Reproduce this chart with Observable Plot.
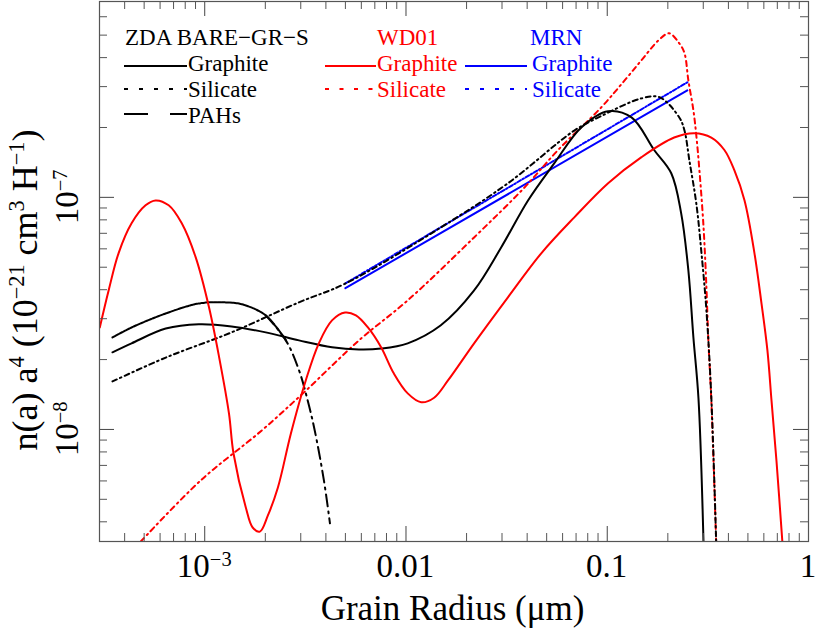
<!DOCTYPE html>
<html><head><meta charset="utf-8">
<script src="https://cdn.jsdelivr.net/npm/d3@7"></script>
<script src="https://cdn.jsdelivr.net/npm/@observablehq/plot@0.6"></script>
<style>
body{margin:0;background:#fff}
#chart{position:relative;width:830px;height:636px}
</style>
</head><body><div id="chart"></div>
<script>
// ---------- data (grain radius a in µm, n(a) a^4 as plotted) ----------
const zdaGraphiteA = [3.48e-4, 4.33e-4, 6.40e-4, 9.34e-4, 1.36e-3, 2.01e-3, 2.94e-3, 4.29e-3, 5.84e-3, 7.52e-3, 0.0102, 0.0149, 0.0218, 0.0297, 0.0404, 0.0545, 0.0743, 0.101, 0.132, 0.171, 0.208, 0.233, 0.253, 0.268, 0.284, 0.301];
const zdaGraphiteV = [2.15e-8, 2.35e-8, 2.72e-8, 2.84e-8, 2.78e-8, 2.62e-8, 2.42e-8, 2.26e-8, 2.21e-8, 2.23e-8, 2.35e-8, 2.81e-8, 3.97e-8, 6.08e-8, 9.70e-8, 1.40e-7, 2.00e-7, 2.35e-7, 2.21e-7, 1.60e-7, 1.27e-7, 8.53e-8, 4.84e-8, 2.49e-8, 1.36e-8, 3.2e-9];

const zdaSilicateA = [3.48e-4, 6.40e-4, 1.36e-3, 2.94e-3, 5.02e-3, 0.0149, 0.0321, 0.0686, 0.0933, 0.148, 0.182, 0.228, 0.242, 0.256, 0.277, 0.294, 0.311, 0.329, 0.348];
const zdaSilicateV = [1.61e-8, 2.04e-8, 2.62e-8, 3.53e-8, 4.26e-8, 7.42e-8, 1.15e-7, 1.94e-7, 2.24e-7, 2.67e-7, 2.70e-7, 2.21e-7, 1.94e-7, 1.44e-7, 9.42e-8, 5.74e-8, 3.26e-8, 1.37e-8, 3.2e-9];

const zdaPahA = [3.48e-4, 4.33e-4, 6.40e-4, 9.34e-4, 1.22e-3, 1.53e-3, 2.01e-3, 2.53e-3, 2.94e-3, 3.25e-3, 3.52e-3, 3.91e-3, 4.19e-3];
const zdaPahV = [2.49e-8, 2.75e-8, 3.16e-8, 3.49e-8, 3.53e-8, 3.46e-8, 3.10e-8, 2.42e-8, 1.80e-8, 1.33e-8, 9.9e-9, 6.03e-9, 3.94e-9];

const wdGraphiteA = [3.01e-4, 3.33e-4, 3.73e-4, 4.33e-4, 5.08e-4, 5.70e-4, 6.62e-4, 7.69e-4, 9.02e-4, 1.05e-3, 1.18e-3, 1.32e-3, 1.39e-3, 1.60e-3, 1.73e-3, 1.88e-3, 2.06e-3, 2.31e-3, 2.68e-3, 3.18e-3, 3.69e-3, 4.29e-3, 4.98e-3, 5.64e-3, 6.47e-3, 7.52e-3, 8.71e-3, 0.0102, 0.0119, 0.0138, 0.0162, 0.0218, 0.0321, 0.0470, 0.0686, 0.101, 0.148, 0.215, 0.271, 0.329, 0.382, 0.428, 0.481, 0.539, 0.584, 0.625, 0.655, 0.693, 0.743];
const wdGraphiteV = [2.75e-8, 3.97e-8, 5.74e-8, 7.73e-8, 9.24e-8, 9.70e-8, 9.24e-8, 7.73e-8, 5.51e-8, 3.36e-8, 2.04e-8, 1.17e-8, 7.88e-9, 4.61e-9, 3.78e-9, 3.63e-9, 4.26e-9, 5.62e-9, 9.61e-9, 1.63e-8, 2.35e-8, 2.95e-8, 3.19e-8, 3.10e-8, 2.75e-8, 2.26e-8, 1.74e-8, 1.43e-8, 1.31e-8, 1.37e-8, 1.63e-8, 2.35e-8, 3.71e-8, 5.74e-8, 8.20e-8, 1.15e-7, 1.49e-7, 1.81e-7, 1.89e-7, 1.81e-7, 1.60e-7, 1.31e-7, 9.70e-8, 5.74e-8, 3.49e-8, 2.19e-8, 1.33e-8, 7.35e-9, 3.2e-9];

const wdSilicateA = [4.81e-4, 9.55e-4, 1.92e-3, 3.18e-3, 5.84e-3, 0.0102, 0.0218, 0.0387, 0.0570, 0.0933, 0.122, 0.148, 0.180, 0.203, 0.228, 0.242, 0.253, 0.268, 0.277, 0.287, 0.301, 0.311, 0.318, 0.329, 0.348];
const wdSilicateV = [3.29e-9, 6.03e-9, 9.9e-9, 1.47e-8, 2.42e-8, 3.60e-8, 6.72e-8, 1.10e-7, 1.60e-7, 2.44e-7, 3.19e-7, 3.90e-7, 4.75e-7, 5.09e-7, 4.61e-7, 4.18e-7, 3.19e-7, 2.37e-7, 1.85e-7, 1.31e-7, 7.42e-8, 4.09e-8, 2.42e-8, 1.33e-8, 3.2e-9];

const mrnA = [0.005, 0.25];
const mrnGraphiteV = [4.06e-8, 2.89e-7];
const mrnSilicateV = [4.26e-8, 3.13e-7];

const xDomain = [3.0e-4, 1];
const yDomain = [3.29e-9, 6.98e-7];
const xMajor = [1e-3, 1e-2, 1e-1, 1];
const xTickLabels = [["10", "\u22123"], ["0.01"], ["0.1"], ["1"]];
const yMajor = [1e-8, 1e-7];
const yTickLabels = [["10", "\u22128"], ["10", "\u22127"]];

const legendHeaders = ["ZDA BARE\u2212GR\u2212S", "WD01", "MRN"];
const legendRows = [["Graphite", "Silicate", "PAHs"], ["Graphite", "Silicate"], ["Graphite", "Silicate"]];

// ---------- layout ----------
const W = 830, H = 636, mL = 99, mR = 22, mT = 1, mB = 95;
const fw = W - mL - mR, fh = H - mT - mB;
const RED = "#ff0000", BLUE = "#0000ff", BLACK = "#000000";
const FONT = "'Liberation Serif','Times New Roman',serif";

const rows = (A, V) => A.map((a, i) => ({a, v: V[i]}));
const minors = (lo, hi, e0, e1) => {
  const out = [];
  for (let e = e0; e <= e1; e++) for (let k = 2; k <= 9; k++) {
    const t = k * Math.pow(10, e);
    if (t > lo * 1.01 && t < hi * 0.99) out.push(t);
  }
  return out;
};
const xMinor = minors(xDomain[0], xDomain[1], -4, -1);
const yMinor = minors(yDomain[0], yDomain[1], -9, -7);

const common = {x: "a", y: "v", curve: "catmull-rom", clip: true};
const pah = rows(zdaPahA, zdaPahV);

const plot = Plot.plot({
  width: W, height: H,
  marginLeft: mL, marginRight: mR, marginTop: mT, marginBottom: mB,
  x: {type: "log", domain: xDomain, axis: null},
  y: {type: "log", domain: yDomain, axis: null},
  style: {fontFamily: FONT, background: "#fff", overflow: "visible"},
  marks: [
    Plot.line(rows(mrnA, mrnGraphiteV), {...common, stroke: BLUE, strokeWidth: 2, curve: "linear"}),
    Plot.line(rows(mrnA, mrnSilicateV), {...common, stroke: BLUE, strokeWidth: 2, strokeDasharray: "4,2,1.5,2", curve: "linear"}),
    Plot.line(rows(wdSilicateA, wdSilicateV), {...common, stroke: RED, strokeWidth: 2, strokeDasharray: "5,4,1.5,4"}),
    Plot.line(rows(zdaSilicateA, zdaSilicateV), {...common, stroke: BLACK, strokeWidth: 2, strokeDasharray: "5,3.5,1.5,3.5"}),
    Plot.line(pah, {...common, filter: d => d.a <= 2.53e-3, stroke: BLACK, strokeWidth: 2, strokeDasharray: "3,1"}),
    Plot.line(pah, {...common, filter: d => d.a >= 2.01e-3, stroke: BLACK, strokeWidth: 2, strokeDasharray: "12,5,2,5"}),
    Plot.line(rows(zdaGraphiteA, zdaGraphiteV), {...common, stroke: BLACK, strokeWidth: 2}),
    Plot.line(rows(wdGraphiteA, wdGraphiteV), {...common, stroke: RED, strokeWidth: 2}),
    // ticks, inward on all four sides
    Plot.tickX(xMajor, {x: d => d, insetTop: fh - 15, stroke: "#444"}),
    Plot.tickX(xMajor, {x: d => d, insetBottom: fh - 15, stroke: "#444"}),
    Plot.tickX(xMinor, {x: d => d, insetTop: fh - 8, stroke: "#555"}),
    Plot.tickX(xMinor, {x: d => d, insetBottom: fh - 8, stroke: "#555"}),
    Plot.tickY(yMajor, {y: d => d, insetRight: fw - 15, stroke: "#444"}),
    Plot.tickY(yMajor, {y: d => d, insetLeft: fw - 15, stroke: "#444"}),
    Plot.tickY(yMinor, {y: d => d, insetRight: fw - 8, stroke: "#555"}),
    Plot.tickY(yMinor, {y: d => d, insetLeft: fw - 8, stroke: "#555"}),
    Plot.frame({stroke: "#555", strokeWidth: 1.2})
  ]
});

document.getElementById("chart").appendChild(plot);
const svg = d3.select(plot);
const xs = plot.scale("x"), ys = plot.scale("y");

function rich(g, x, y, parts, size, {anchor = "middle", rotate = 0, fill = BLACK, supScale = 0.62, supRise = 0.33} = {}) {
  const t = g.append("text")
    .attr("transform", `translate(${x},${y}) rotate(${rotate})`)
    .attr("text-anchor", anchor).attr("font-size", size).attr("fill", fill)
    .style("font-family", FONT);
  let raised = false;
  for (const [s, sup] of parts) {
    const ts = t.append("tspan").text(s);
    if (sup) { ts.attr("font-size", size * supScale); if (!raised) { ts.attr("dy", -size * supRise); raised = true; } }
    else if (raised) { ts.attr("dy", size * supRise); raised = false; }
  }
  return t;
}

const labels = svg.append("g");
// x tick labels
xMajor.forEach((v, i) => {
  const [base, sup] = xTickLabels[i];
  const parts = [[base, false]];
  if (sup) parts.push([sup, true]);
  rich(labels, xs.apply(v), 577, parts, 33);
});
// y tick labels (rotated)
yMajor.forEach((v, i) => {
  const [base, sup] = yTickLabels[i];
  rich(labels, 78, ys.apply(v), [[base, false], [sup, true]], 33, {rotate: -90});
});
// axis titles
rich(labels, mL + fw / 2 - 1, 620, [["Grain Radius (\u03bcm)", false]], 35);
rich(labels, 37, 290, [["n(a) a", false], ["4", true], [" (10", false], ["\u221221", true], [" cm", false], ["3", true], [" H", false], ["\u22121", true], [")", false]], 36, {rotate: -90, supRise: 0.36});

// legend
const lg = svg.append("g").attr("text-anchor", "start").attr("font-size", 23).style("font-family", FONT);
const cols = [
  {color: BLACK, hx: 125, x1: 124, x2: 187, tx: 188, styles: ["", "4,11", "24,22"]},
  {color: RED, hx: 377, x1: 325, x2: 376, tx: 377, styles: ["", "4,10.5"]},
  {color: BLUE, hx: 530, x1: 465, x2: 527, tx: 532, styles: ["", "4,11"]}
];
const rowBase = [71, 97, 123], rowLine = [66, 89, 114];
cols.forEach((c, ci) => {
  lg.append("text").attr("x", c.hx).attr("y", 45).attr("fill", c.color).attr("text-anchor", "start").text(legendHeaders[ci]);
  legendRows[ci].forEach((name, ri) => {
    const ln = lg.append("line").attr("x1", c.x1).attr("x2", c.x2).attr("y1", rowLine[ri]).attr("y2", rowLine[ri])
      .attr("stroke", c.color).attr("stroke-width", 2);
    if (c.styles[ri]) ln.attr("stroke-dasharray", c.styles[ri]);
    lg.append("text").attr("x", c.tx).attr("y", rowBase[ri]).attr("fill", c.color).attr("text-anchor", "start").text(name);
  });
});
</script>
</body></html>
